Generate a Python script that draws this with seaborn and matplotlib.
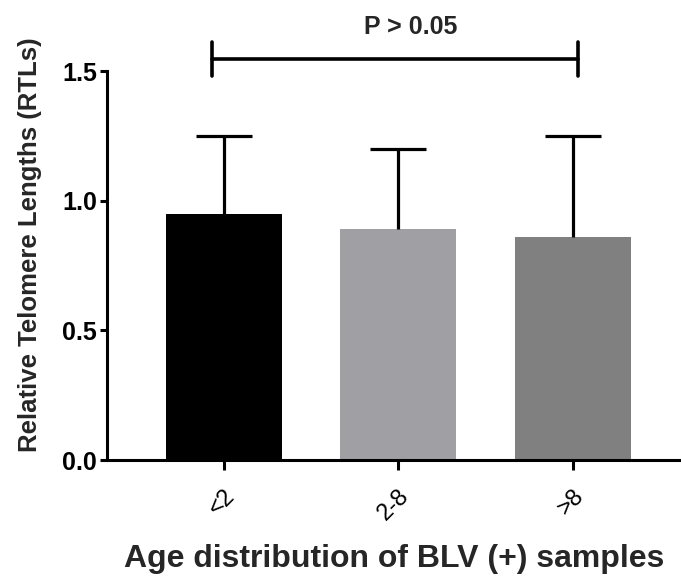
import numpy as np
import pandas as pd
import seaborn as sns
import matplotlib.pyplot as plt

# Values (mean and SD of RTL per age group)
groups = ["<2", "2-8", ">8"]
means = [0.95, 0.89, 0.86]
sds = [0.30, 0.31, 0.39]
bar_colors = ["#000000", "#a0a0a4", "#808080"]
p_label = "P > 0.05"

df = pd.DataFrame({"Age": groups, "RTL": means})

sns.set_theme(style="ticks")
plt.rcParams["font.family"] = ["Liberation Sans", "DejaVu Sans"]

fig = plt.figure(figsize=(6.81, 5.82), dpi=100)
ax = fig.add_axes([0.157, 0.2096, 0.843, 0.6684])

sns.barplot(data=df, x="Age", y="RTL", hue="Age", palette=bar_colors,
            width=0.665, legend=False, ax=ax, zorder=2, linewidth=0)

# upper-only SD error bars, GraphPad style
xpos = np.arange(len(groups))
eb = ax.errorbar(xpos, means, yerr=[np.zeros(len(sds)), sds], fmt="none",
                 ecolor="black", elinewidth=2.3, capsize=20, capthick=2.3, zorder=3)
# hide the cap that sits on the bar top (lower side, zero length)
eb[1][0].set_visible(False)

ax.set_ylim(0, 1.5)
ax.set_xlim(-0.67, 2.62)
ax.set_yticks([0.0, 0.5, 1.0, 1.5])
ax.set_yticklabels(["0.0", "0.5", "1.0", "1.5"], fontsize=18, fontweight="bold")
ax.set_xticks(xpos)
ax.set_xticklabels(groups, fontsize=17, rotation=45, ha="right",
                   rotation_mode="anchor")

sns.despine(ax=ax)
for side in ["left", "bottom"]:
    ax.spines[side].set_linewidth(2.2)
    ax.spines[side].set_color("black")
ax.tick_params(axis="y", length=5, width=2.2, pad=2, colors="black")
ax.tick_params(axis="x", length=7, width=2.2, pad=11, colors="black")

ax.set_ylabel("Relative Telomere Lengths (RTLs)", fontsize=18.5, fontweight="bold")
ax.yaxis.set_label_coords(-0.113, 0.553)
ax.set_xlabel("Age distribution of BLV (+) samples", fontsize=23, fontweight="bold")
ax.xaxis.set_label_coords(0.5, -0.215)

# significance bracket between first and last group
ax.plot([-0.07, 2.03], [1.547, 1.547], color="black", lw=2.6, clip_on=False)
for xb in [-0.07, 2.03]:
    ax.plot([xb, xb], [1.482, 1.612], color="black", lw=2.6, clip_on=False)
ax.text(1.07, 1.67, p_label, fontsize=18, fontweight="bold",
        ha="center", va="center")

fig.savefig("out.png", dpi=100)
